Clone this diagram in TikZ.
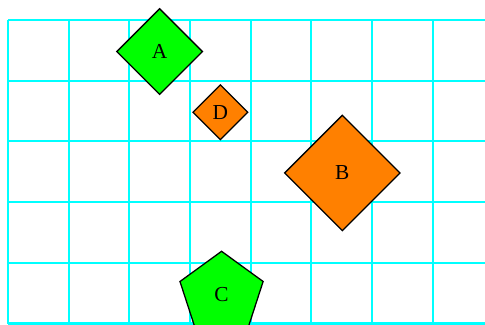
\documentclass[tikz,border=0pt]{standalone}
\usepackage{fontspec}
\setmainfont{Liberation Serif}
\usetikzlibrary{shapes.geometric}
\definecolor{gridcyan}{RGB}{0,255,255}
\definecolor{tilegreen}{RGB}{0,255,0}
\definecolor{tileorange}{RGB}{255,128,0}

\begin{document}
\begin{tikzpicture}[
        tile/.style={draw=black, line width=0.6pt, inner sep=0pt},
        greentile/.style={tile, fill=tilegreen},
        orangetile/.style={tile, fill=tileorange}
    ]
        \useasboundingbox (-0.13,-0.02) rectangle (7.86,5.33);
        \draw[gridcyan, line width=1pt] (0,0) grid (8,5);
        \node[greentile, diamond, minimum width=1.42cm, minimum height=1.42cm] (A) at (2.5,4.48) {A};
        \node[orangetile, diamond, minimum width=0.91cm, minimum height=0.91cm] (D) at (3.5,3.48) {D};
        \node[orangetile, diamond, minimum width=1.91cm, minimum height=1.91cm] (B) at (5.51,2.48) {B};
        \node[greentile, regular polygon, regular polygon sides=5, minimum size=1.44cm] (C) at (3.52,0.47) {C};
    \end{tikzpicture}
\end{document}
